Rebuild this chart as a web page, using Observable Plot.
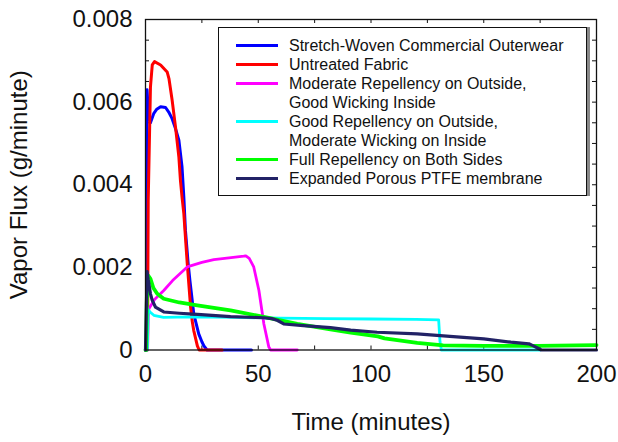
<!DOCTYPE html>
<html>
<head>
<meta charset="utf-8">
<script src="https://cdn.jsdelivr.net/npm/d3@7"></script>
<script src="https://cdn.jsdelivr.net/npm/@observablehq/plot@0.6"></script>
<style>
  html, body { margin: 0; padding: 0; background: #fff; }
  body { width: 618px; height: 442px; overflow: hidden; font-family: "Liberation Sans", Arial, sans-serif; }
  #wrap { position: relative; width: 618px; height: 442px; }
  #legend { position: absolute; left: 218px; top: 27px; width: 369px; height: 169px;
    border: 1px solid #111; box-shadow: 3px 0 0 #888; background: #fff; box-sizing: border-box;
    padding-top: 8px; font-size: 16px; color: #111; }
  .row { position: relative; height: 19px; line-height: 19px; white-space: nowrap; }
  .sw { position: absolute; left: 17px; top: 8px; width: 42px; height: 3px; }
  .tx { position: absolute; left: 70px; top: 0; }
</style>
</head>
<body>
<div id="wrap"><div id="chart"></div><div id="legend"></div></div>
<script>
// ---- data ----
const seriesNames = [
  "Stretch-Woven Commercial Outerwear",
  "Untreated Fabric",
  "Moderate Repellency on Outside,\nGood Wicking Inside",
  "Good Repellency on Outside,\nModerate Wicking on Inside",
  "Full Repellency on Both Sides",
  "Expanded Porous PTFE membrane"
];
const seriesColors = ["#0000ff", "#ff0000", "#ff00ff", "#00ffff", "#00ff00", "#222266"];

const stretchT = [0, 0.5, 0.7, 1.2, 2.2, 3.7, 5, 6.7, 8.9, 10.3, 11.8, 13.3, 14.8, 16.2, 17, 17.7, 18.9, 19.7, 21.4, 22.2, 23.6, 25, 25.9, 27.3, 47];
const stretchV = [0, 0, 0.0063, 0.0058, 0.0055, 0.00573, 0.00583, 0.00589, 0.00587, 0.00576, 0.0056, 0.00536, 0.00508, 0.00443, 0.0037, 0.0029, 0.0021, 0.00168, 0.00088, 0.0007, 0.00039, 0.0002, 0.0001, 0, 0];

const untreatedT = [0, 0.9, 1.2, 2.2, 3, 4, 6.7, 9.6, 10.4, 11.8, 13.3, 14.8, 15.5, 16.2, 17, 18.5, 20, 20.7, 21.4, 23, 23.8, 34];
const untreatedV = [0, 0, 0.0036, 0.00637, 0.0069, 0.00698, 0.0069, 0.00673, 0.00657, 0.00605, 0.0054, 0.00467, 0.0041, 0.0037, 0.0033, 0.0021, 0.00104, 0.0007, 0.00047, 0.0001, 0, 0];

const moderateT = [0, 0.9, 1.2, 1.5, 4, 8.1, 12, 18.5, 25, 30.3, 37, 43.6, 44.5, 46, 48, 50.3, 52.5, 54.7, 55.5, 67.3];
const moderateV = [0, 0, 0.0008, 0.001, 0.00122, 0.00144, 0.00168, 0.00201, 0.00212, 0.00219, 0.00223, 0.00227, 0.00228, 0.00222, 0.00201, 0.00144, 0.00063, 0.00007, 0, 0];

const goodT = [0, 0.8, 1.2, 2, 3.7, 8, 20, 40, 60, 80, 100, 120, 130, 130.6, 131.2, 175];
const goodV = [0, 0, 0.00098, 0.00092, 0.00084, 0.00079, 0.0008, 0.00079, 0.00077, 0.00076, 0.00075, 0.00074, 0.00073, 0.0002, 0, 0];

const fullT = [0, 0.3, 0.6, 1.2, 2.2, 3.5, 5.2, 8.1, 15, 23, 37.7, 52.5, 67.3, 82, 91, 103, 106, 120.5, 132, 150, 174, 200];
const fullV = [0, 0, 0.0012, 0.0018, 0.00172, 0.0015, 0.00136, 0.00124, 0.00115, 0.00108, 0.00096, 0.0008, 0.00063, 0.0005, 0.00042, 0.00033, 0.00028, 0.00017, 0.00011, 0.0001, 0.0001, 0.00012];

const ptfeT = [0, 0.3, 0.7, 1.2, 2.2, 3, 4.4, 8.1, 15, 23, 37.7, 52.5, 56, 58.4, 61.3, 70, 82, 91, 102.7, 120.5, 135, 150, 162, 170, 172, 174.5, 175.5, 200];
const ptfeV = [0, 0.0008, 0.0019, 0.0017, 0.00136, 0.0012, 0.00104, 0.00092, 0.00089, 0.00086, 0.00081, 0.00078, 0.00076, 0.00072, 0.00063, 0.00059, 0.00054, 0.00048, 0.00043, 0.00039, 0.00033, 0.00027, 0.00019, 0.00015, 0.0001, 0.00003, 0, 0];

const xTickLabels = [0, 50, 100, 150, 200];
const yTickLabels = [0, 0.002, 0.004, 0.006, 0.008];
const xMinor = [0, 25, 50, 75, 100, 125, 150, 175, 200];
const yMinor = [0, 0.0005, 0.001, 0.0015, 0.002, 0.0025, 0.003, 0.0035, 0.004, 0.0045, 0.005, 0.0055, 0.006, 0.0065, 0.007, 0.0075, 0.008];

// ---- build ----
const allT = [stretchT, untreatedT, moderateT, goodT, fullT, ptfeT];
const allV = [stretchV, untreatedV, moderateV, goodV, fullV, ptfeV];
const widths = [3, 3, 2.8, 2.8, 3.8, 3.2];
const lineMarks = allT.map((ts, i) =>
  Plot.line(ts.map((t, j) => ({t, v: allV[i][j]})), {x: "t", y: "v", stroke: seriesColors[i], strokeWidth: widths[i], strokeLinejoin: "round"})
);

const W = 618, H = 442, mL = 145, mR = 22, mT = 19, mB = 92.5;
const plotH = H - mT - mB, plotW = W - mL - mR;

const chart = Plot.plot({
  width: W, height: H,
  marginLeft: mL, marginRight: mR, marginTop: mT, marginBottom: mB,
  style: {fontFamily: "'Liberation Sans', Arial, sans-serif", fontSize: "24px", color: "#111", background: "#fff"},
  x: {domain: [0, 200]},
  y: {domain: [0, 0.008]},
  marks: [
    Plot.axisX({ticks: xTickLabels, tickSize: 0, tickPadding: 15, tickFormat: d => String(d), fontSize: 24,
      label: "Time (minutes)", labelAnchor: "center", labelArrow: "none", labelOffset: 80}),
    Plot.axisY({ticks: yTickLabels, tickSize: 0, tickPadding: 13, tickFormat: d => d === 0 ? "0" : d3.format(".3f")(d), fontSize: 24,
      label: "Vapor Flux (g/minute)", labelAnchor: "center", labelArrow: "none", labelOffset: 136}),
    Plot.tickX(xMinor, {x: d => d, insetTop: plotH - 4, stroke: "#111"}),
    Plot.tickX(xMinor, {x: d => d, insetBottom: plotH - 4, stroke: "#111"}),
    Plot.tickY(yMinor, {y: d => d, insetRight: plotW - 4, stroke: "#111"}),
    Plot.tickY(yMinor, {y: d => d, insetLeft: plotW - 4, stroke: "#111"}),
    ...lineMarks,
    Plot.frame({stroke: "#111", strokeWidth: 1.3})
  ]
});
document.getElementById("chart").appendChild(chart);

// legend
const leg = document.getElementById("legend");
seriesNames.forEach((name, i) => {
  name.split("\n").forEach((line, k) => {
    const row = document.createElement("div");
    row.className = "row";
    if (k === 0) {
      const sw = document.createElement("div");
      sw.className = "sw";
      sw.style.background = seriesColors[i];
      row.appendChild(sw);
    }
    const tx = document.createElement("div");
    tx.className = "tx";
    tx.textContent = line;
    row.appendChild(tx);
    leg.appendChild(row);
  });
});
</script>
</body>
</html>
